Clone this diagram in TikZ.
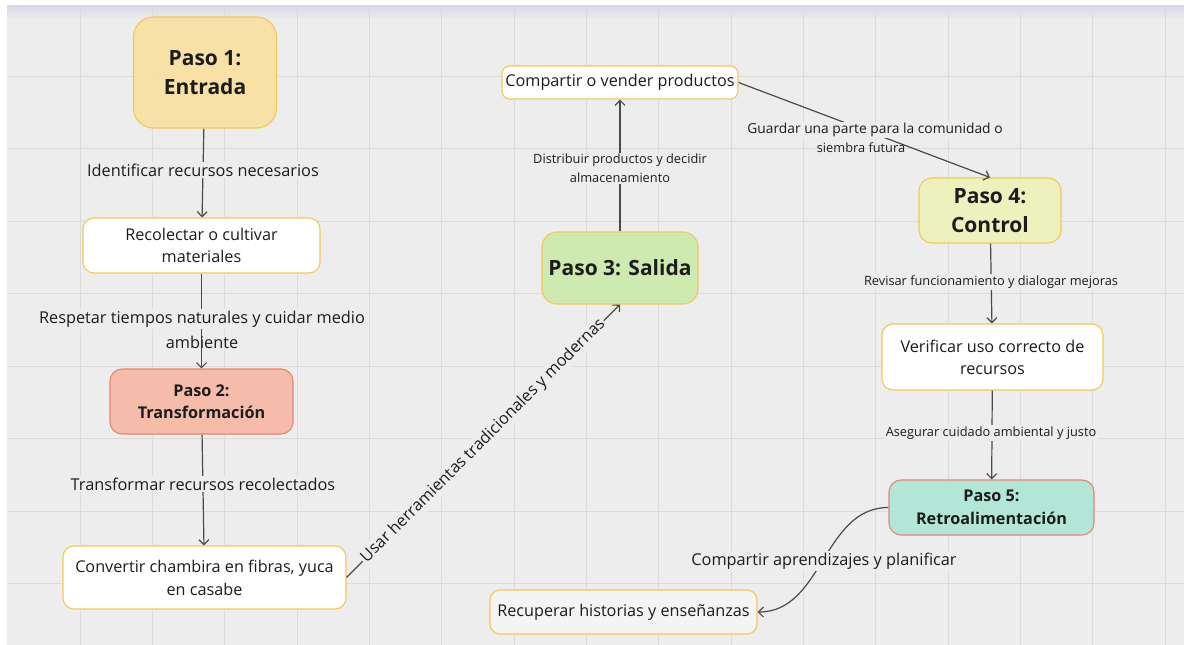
\documentclass[tikz,border=0pt]{standalone}
\usepackage{fontspec}
\setmainfont{Open Sans}
\usetikzlibrary{arrows.meta}

\definecolor{canvas}{HTML}{EDEDED}
\definecolor{gridc}{HTML}{DBDBDB}
\definecolor{topshade}{HTML}{D8D8E4}
\definecolor{ink}{HTML}{1C1C1C}
\definecolor{wire}{HTML}{4A4A4A}
\definecolor{ybord}{HTML}{F4C856}
\definecolor{rbord}{HTML}{E8866E}
\definecolor{fillA}{HTML}{F9E0A0}
\definecolor{fillB}{HTML}{F7B8A6}
\definecolor{fillC}{HTML}{CCEAAA}
\definecolor{fillD}{HTML}{EDF2B9}
\definecolor{fillE}{HTML}{ADE6D6}
\definecolor{fillR}{HTML}{F4F4F4}

\tikzset{
  card/.style={draw=ybord, line width=1.1pt, fill=white, text=ink, align=center,
    inner sep=2pt, rounded corners=11pt, font=\fontsize{16.2}{22}\selectfont},
  stepbig/.style={card, fill opacity=0.9, text opacity=1,
    font=\fontsize{21}{29.5}\selectfont\bfseries},
  stepmid/.style={card, fill opacity=0.92, text opacity=1,
    font=\fontsize{16.2}{22.5}\selectfont\bfseries},
  arr/.style={draw=wire, line width=1.2pt, -{Straight Barb[length=5pt,width=10pt]}},
  lab/.style={fill=canvas, text=ink, inner sep=1.5pt, align=center,
    font=\fontsize{16.3}{22}\selectfont},
  labsmall/.style={lab, font=\fontsize{12.8}{19}\selectfont},
  bare/.style={lab, fill=none},
  baresmall/.style={labsmall, fill=none}
}

\begin{document}
\begin{tikzpicture}[x=1pt,y=-1pt]
\useasboundingbox (0,0) rectangle (1184,645);

% canvas, top shadow and white frame
\fill[canvas] (0,0) rectangle (1184,645);
\shade[top color=topshade, bottom color=canvas] (7,5) rectangle (1184,19);
\fill[white] (0,0) rectangle (1184,5);
\fill[white] (0,0) rectangle (7,645);

% board grid
\foreach \k in {0,...,15}
  \draw[gridc, line width=1pt] ({80+72.35*\k},5) -- ({80+72.35*\k},645);
\foreach \k in {0,...,7}
  \draw[gridc, line width=1pt] (7,{76+72.5*\k}) -- (1184,{76+72.5*\k});

% step boxes and activity cards
\node[stepbig, fill=fillA, rounded corners=20pt, minimum width=143pt, minimum height=111pt] (p1) at (205,72.5) {Paso 1:\\Entrada};
\node[card, minimum width=237pt, minimum height=55pt] (rec) at (201.5,245.5) {Recolectar o cultivar\\materiales};
\node[stepmid, fill=fillB, draw=rbord, rounded corners=12pt, minimum width=183pt, minimum height=65pt] (p2) at (201.5,401.5) {Paso 2:\\Transformación};
\node[card, minimum width=283pt, minimum height=63pt, font=\fontsize{16.2}{23}\selectfont] (conv) at (204.5,577.5) {Convertir chambira en fibras, yuca\\en casabe};
\node[stepbig, fill=fillC, rounded corners=15pt, minimum width=156pt, minimum height=72pt] (p3) at (620,268) {Paso 3: Salida};
\node[card, rounded corners=8pt, minimum width=236pt, minimum height=33pt] (comp) at (620,82.5) {Compartir o vender productos};
\node[stepbig, fill=fillD, rounded corners=13pt, minimum width=142pt, minimum height=65pt] (p4) at (990,210.5) {Paso 4:\\Control};
\node[card, minimum width=221pt, minimum height=66pt] (ver) at (992.5,357) {Verificar uso correcto de\\recursos};
\node[stepmid, fill=fillE, draw=rbord, rounded corners=12pt, minimum width=205pt, minimum height=55pt, font=\fontsize{16.2}{23}\selectfont\bfseries] (p5) at (991.5,507.5) {Paso 5:\\Retroalimentación};
\node[card, fill=fillR, rounded corners=10pt, minimum width=267pt, minimum height=44pt] (recu) at (623.5,612) {Recuperar historias y enseñanzas};

% connectors
\draw[arr] (p1) -- (rec);
\draw[arr] (rec) -- (p2);
\draw[arr] (p2) -- (conv);
\draw[arr] (conv.east) -- (p3.south)
  node[lab, midway, sloped] (lusar) {Usar herramientas tradicionales y modernas};
\draw[arr] (p3) -- (comp);
\draw[arr] (comp.east) -- (p4.north);
\draw[arr] (p4) -- (ver);
\draw[arr] (ver) -- (p5);
\draw[arr] (p5.west) to[out=180, in=0] (recu.east);

% connector labels
\node[lab] (l1) at (203,170) {Identificar recursos necesarios};
\node[lab] (l2a) at (202,319) {Respetar tiempos naturales y cuidar medio};
\node[bare] (l2b) at (202,342) {ambiente};
\node[lab] (l3) at (203,484) {Transformar recursos recolectados};
\node[labsmall] (l5) at (620,168.5) {Distribuir productos y decidir\\almacenamiento};
\node[labsmall, font=\fontsize{13.8}{19}\selectfont] (l6a) at (875,130) {Guardar una parte para la comunidad o};
\node[baresmall] (l6b) at (861,148) {siembra futura};
\node[labsmall] (l7) at (991,282) {Revisar funcionamiento y dialogar mejoras};
\node[labsmall] (l8) at (991,433) {Asegurar cuidado ambiental y justo};
\node[lab] (l9) at (824,561) {Compartir aprendizajes y planificar};
\end{tikzpicture}
\end{document}
